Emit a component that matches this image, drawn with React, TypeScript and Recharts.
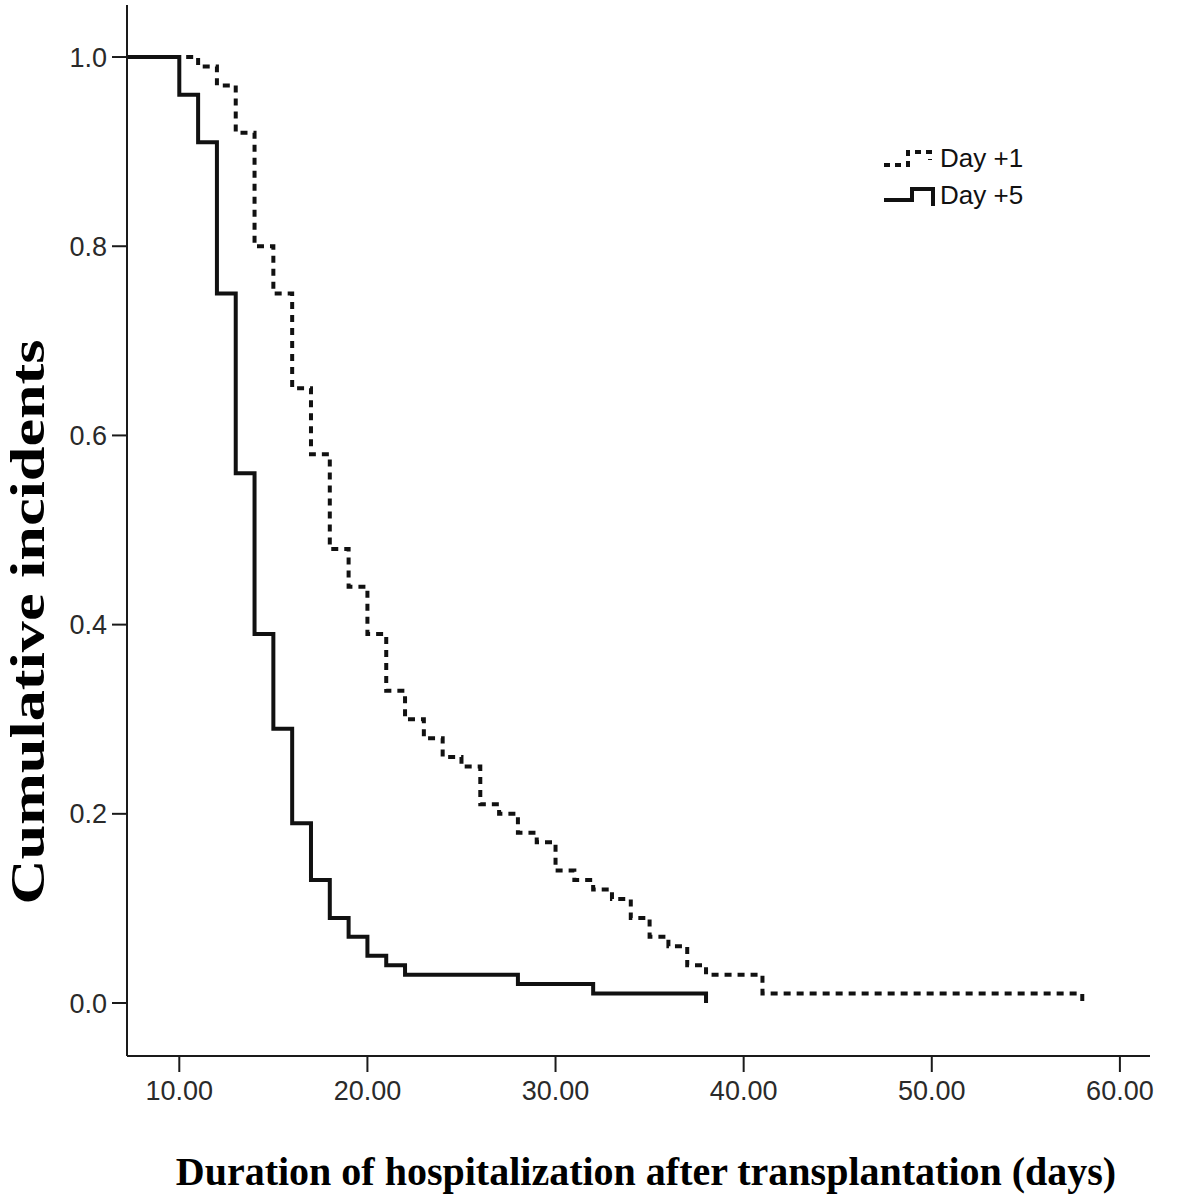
import { LineChart, Line, XAxis, YAxis, Label } from 'recharts';

// Kaplan-Meier style step curves
const dayOneTimes = [0, 11, 12, 13, 14, 15, 16, 17, 18, 19, 20, 21, 22, 23, 24, 25, 26, 27, 28, 29, 30, 31, 32, 33, 34, 35, 36, 37, 38, 41, 58];
const dayOneValues = [1.0, 0.99, 0.97, 0.92, 0.8, 0.75, 0.65, 0.58, 0.48, 0.44, 0.39, 0.33, 0.3, 0.28, 0.26, 0.25, 0.21, 0.2, 0.18, 0.17, 0.14, 0.13, 0.12, 0.11, 0.09, 0.07, 0.06, 0.04, 0.03, 0.01, 0.0];

const dayFiveTimes = [0, 10, 11, 12, 13, 14, 15, 16, 17, 18, 19, 20, 21, 22, 28, 32, 38];
const dayFiveValues = [1.0, 0.96, 0.91, 0.75, 0.56, 0.39, 0.29, 0.19, 0.13, 0.09, 0.07, 0.05, 0.04, 0.03, 0.02, 0.01, 0.0];

const xTicks = [10, 20, 30, 40, 50, 60];
const yTicks = [0, 0.2, 0.4, 0.6, 0.8, 1.0];

const dayOneData = dayOneTimes.map((t, i) => ({ t, v: dayOneValues[i] }));
const dayFiveData = dayFiveTimes.map((t, i) => ({ t, v: dayFiveValues[i] }));

const AXIS = '#1a1a1a';
const TICK_FONT = "'Liberation Sans', Arial, sans-serif";
const TITLE_FONT = "'Liberation Serif', 'Times New Roman', serif";

function LegendBox() {
  const row = { display: 'flex', alignItems: 'center', height: 37 } as const;
  const text = { fontFamily: TICK_FONT, fontSize: 26, color: '#111', marginLeft: 2, lineHeight: '26px' } as const;
  return (
    <div style={{ position: 'absolute', left: 884, top: 139 }}>
      <div style={row}>
        <svg width={54} height={26}>
          <path d="M0,20 H24 V7 H46 V15" fill="none" stroke="#111" strokeWidth={4} strokeDasharray="6 5" />
        </svg>
        <span style={text}>Day +1</span>
      </div>
      <div style={row}>
        <svg width={54} height={26}>
          <path d="M0,18 H28 V7 H49 V24" fill="none" stroke="#111" strokeWidth={4} />
        </svg>
        <span style={text}>Day +5</span>
      </div>
    </div>
  );
}

export default function App() {
  return (
    <div style={{ position: 'absolute', left: 0, top: 0, width: 1181, height: 1195, background: '#fff' }}>
      <LineChart width={1181} height={1195} margin={{ top: 5, right: 31, bottom: 0, left: 0 }}>
        <XAxis
          type="number"
          dataKey="t"
          domain={[7.22, 61.6]}
          allowDataOverflow
          ticks={xTicks}
          tickFormatter={(v: number) => v.toFixed(2)}
          height={139}
          stroke={AXIS}
          strokeWidth={2}
          tickSize={16}
          tickMargin={9}
          tick={{ fill: '#2a2a2a', fontSize: 27, fontFamily: TICK_FONT }}
        >
          <Label
            content={() => (
              <text x={646} y={1185} textAnchor="middle" fontFamily={TITLE_FONT} fontWeight="bold" fontSize={40} fill="#000">
                Duration of hospitalization after transplantation (days)
              </text>
            )}
          />
        </XAxis>
        <YAxis
          type="number"
          domain={[-0.056, 1.055]}
          allowDataOverflow
          ticks={yTicks}
          tickFormatter={(v: number) => v.toFixed(1)}
          width={127}
          stroke={AXIS}
          strokeWidth={2}
          tickSize={15}
          tickMargin={5}
          tick={{ fill: '#2a2a2a', fontSize: 27, fontFamily: TICK_FONT }}
        >
          <Label
            content={() => (
              <text
                x={44}
                y={622}
                transform="rotate(-90 44 622)"
                textAnchor="middle"
                fontFamily={TITLE_FONT}
                fontWeight="bold"
                fontSize={48}
                textLength={565}
                lengthAdjust="spacingAndGlyphs"
                fill="#000"
              >
                Cumulative incidents
              </text>
            )}
          />
        </YAxis>
        <Line
          data={dayOneData}
          dataKey="v"
          type="stepAfter"
          stroke="#111"
          strokeWidth={4}
          strokeDasharray="7 6"
          dot={false}
          activeDot={false}
          isAnimationActive={false}
        />
        <Line
          data={dayFiveData}
          dataKey="v"
          type="stepAfter"
          stroke="#111"
          strokeWidth={4}
          dot={false}
          activeDot={false}
          isAnimationActive={false}
        />
      </LineChart>
      <LegendBox />
    </div>
  );
}
